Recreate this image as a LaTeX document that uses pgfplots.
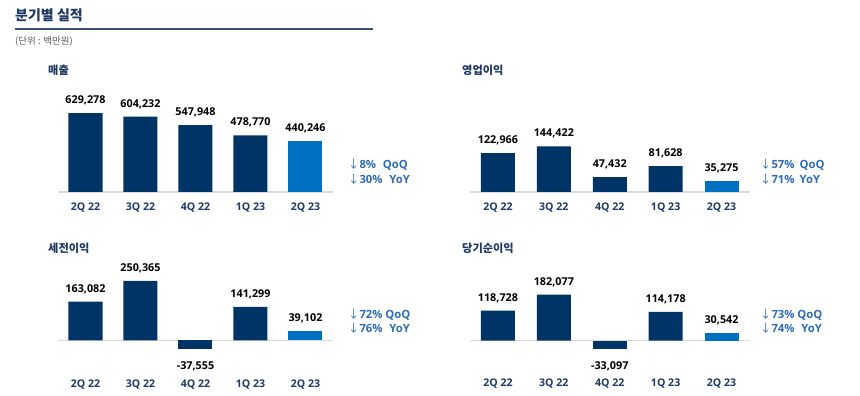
\documentclass[border=0pt]{standalone}
\usepackage{pgfplots}
\pgfplotsset{compat=1.18}
\usepackage{fontspec}
\setmainfont{Open Sans}
\newfontfamily\kr{Noto Sans CJK KR}
\definecolor{navy}{HTML}{003466}
\definecolor{hl}{HTML}{0070C0}
\definecolor{ttl}{HTML}{1F3864}
\definecolor{qq}{HTML}{2E6DB4}
\definecolor{basegray}{HTML}{D9D9D9}
\definecolor{subgray}{HTML}{595959}
\definecolor{rule}{HTML}{3B5170}

\pgfplotsset{
 panel/.style={
  scale only axis, height=110pt,
  xmin=-0.5, xmax=4.5, ybar, bar width=34pt, bar shift=0pt,
  axis line style={draw=none}, major tick length=0pt, ytick=\empty,
  xtick={0,1,2,3,4}, xticklabels={2Q 22,3Q 22,4Q 22,1Q 23,2Q 23},
  xticklabel style={font=\bfseries\fontsize{10.6}{12}\selectfont, text=ttl, inner sep=0pt},
  nodes near coords={\pgfmathprintnumber[fixed,precision=0,1000 sep={,}]{\pgfplotspointmeta}},
  every node near coord/.append style={font=\bfseries\fontsize{10.8}{12}\selectfont, text=black, inner sep=0pt, anchor=south, yshift=8pt},
  /pgf/number format/assume math mode=true,
  clip mode=individual,
 },
 negp/.style={every node near coord/.append style={anchor=north, yshift=-20pt}},
 nbar/.style={fill=navy, draw=none},
 hbar/.style={fill=hl, draw=none},
}

\begin{document}
\begin{tikzpicture}[x=1pt,y=1pt]
\useasboundingbox (0,0) rectangle (860,396);
\fill[white] (0,0) rectangle (860,396);

% header
\node[anchor=west, inner sep=0pt, text=ttl, font=\kr\bfseries\fontsize{14}{16}\selectfont] at (15pt,381pt) {분기별 실적};
\draw[rule, line width=1.2pt] (15pt,367pt) -- (373pt,367pt);
\node[anchor=west, inner sep=0pt, text=subgray, font=\kr\fontsize{9.5}{11}\selectfont] at (15pt,354pt) {(단위 : 백만원)};

% panel titles
\tikzset{pt/.style={anchor=west, inner sep=0pt, text=ttl, font=\kr\bfseries\fontsize{11.2}{13}\selectfont}}
\node[pt] at (48pt,326pt) {매출};
\node[pt] at (462pt,326pt) {영업이익};
\node[pt] at (48pt,148pt) {세전이익};
\node[pt] at (462pt,148pt) {당기순이익};

% panel 1: sales
\begin{axis}[panel, at={(58pt,204pt)}, anchor=south west, width=275pt,
  ymin=95900, ymax=838600, xticklabel style={yshift=-11pt}]
\draw[basegray, line width=1.5pt] (axis cs:-0.5,95900) -- (axis cs:4.5,95900);
\addplot[nbar] coordinates {(0,629278) (1,604232) (2,547948) (3,478770)};
\addplot[hbar] coordinates {(4,440246)};
\end{axis}

% panel 2: operating profit
\begin{axis}[panel, at={(470pt,204pt)}, anchor=south west, width=279.5pt,
  ymin=0, ymax=348100, xticklabel style={yshift=-11pt}]
\draw[basegray, line width=1.5pt] (axis cs:-0.5,0) -- (axis cs:4.5,0);
\addplot[nbar] coordinates {(0,122966) (1,144422) (2,47432) (3,81628)};
\addplot[hbar] coordinates {(4,35275)};
\end{axis}

% panel 3: pre-tax profit
\begin{axis}[panel, at={(58pt,20.7pt)}, anchor=south west, width=275pt, height=125pt,
  ymin=-147679, ymax=379747, xticklabel style={yshift=-4pt}]
\draw[basegray, line width=1.5pt] (axis cs:-0.5,0) -- (axis cs:4.5,0);
\addplot[nbar] coordinates {(0,163082) (1,250365) (3,141299)};
\addplot[nbar, negp] coordinates {(2,-37555)};
\addplot[hbar] coordinates {(4,39102)};
\end{axis}

% panel 4: net profit
\begin{axis}[panel, at={(470pt,20.3pt)}, anchor=south west, width=279.5pt, height=125pt,
  ymin=-138340, ymax=355731, xticklabel style={yshift=-3pt}]
\draw[basegray, line width=1.5pt] (axis cs:-0.5,0) -- (axis cs:4.5,0);
\addplot[nbar] coordinates {(0,118728) (1,182077) (3,114178)};
\addplot[nbar, negp] coordinates {(2,-33097)};
\addplot[hbar] coordinates {(4,30542)};
\end{axis}

% QoQ / YoY
\tikzset{qy/.style={anchor=west, inner sep=0pt, text=qq, font=\bfseries\fontsize{11.3}{13}\selectfont}}
\node[qy] at (348pt,231.7pt) {{\kr\mdseries ↓}8\%\hspace{0.6em}QoQ};
\node[qy] at (348pt,216.7pt) {{\kr\mdseries ↓}30\%\hspace{0.6em}YoY};
\node[qy] at (760pt,231.7pt) {{\kr\mdseries ↓}57\%\hspace{0.45em}QoQ};
\node[qy] at (760pt,216.7pt) {{\kr\mdseries ↓}71\%\hspace{0.45em}YoY};
\node[qy] at (348pt,81pt) {{\kr\mdseries ↓}72\%\hspace{0.25em}QoQ};
\node[qy] at (348pt,67.7pt) {{\kr\mdseries ↓}76\%\hspace{0.6em}YoY};
\node[qy] at (760pt,81.5pt) {{\kr\mdseries ↓}73\%\hspace{0.25em}QoQ};
\node[qy] at (760pt,67.7pt) {{\kr\mdseries ↓}74\%\hspace{0.6em}YoY};
\end{tikzpicture}
\end{document}
